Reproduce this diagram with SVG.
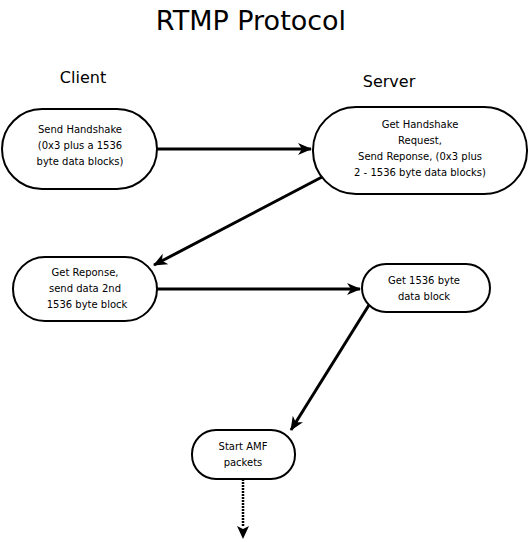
<svg xmlns="http://www.w3.org/2000/svg" width="529" height="542" viewBox="0 0 529 542">
<style>
.box{fill:#fff;stroke:#000;stroke-width:2}
.t{font-family:"DejaVu Sans",sans-serif;font-size:10px;text-anchor:middle;fill:#000}
.h{font-family:"DejaVu Sans",sans-serif;text-anchor:middle;fill:#000}
.c{fill:none;stroke:#000;stroke-width:3}
.d{fill:none;stroke:#000;stroke-width:2.5;stroke-dasharray:2 1}
</style>
<defs>
<marker id="ah" markerUnits="userSpaceOnUse" markerWidth="16" markerHeight="14" refX="13" refY="6" orient="auto" overflow="visible">
<path d="M0,0 L14,6 L0,12 L4,6 z" fill="#000"/>
</marker>
</defs>
<rect width="529" height="542" fill="#fff"/>
<text class="h" x="251" y="30" font-size="27">RTMP Protocol</text>
<text class="h" x="83" y="83" font-size="16">Client</text>
<text class="h" x="389" y="87" font-size="16">Server</text>
<g id="connectors">
<line class="c" x1="157" y1="149" x2="311" y2="149" marker-end="url(#ah)"/>
<line class="c" x1="322" y1="177" x2="154" y2="265" marker-end="url(#ah)"/>
<line class="c" x1="157" y1="289" x2="360" y2="289" marker-end="url(#ah)"/>
<line class="c" x1="369" y1="305" x2="291" y2="430" marker-end="url(#ah)"/>
<line class="d" x1="243" y1="479" x2="243" y2="526"/>
<path d="M237,526 L243,539 L249,526 L243,529 z" fill="#000"/>
</g>
<g id="send-handshake">
<rect class="box" x="2" y="109" width="155" height="80" rx="40" ry="40"/>
<text class="t" x="80" y="133">Send Handshake</text>
<text class="t" x="80" y="149">(0x3 plus a 1536</text>
<text class="t" x="80" y="165">byte data blocks)</text>
</g>
<g id="get-handshake">
<rect class="box" x="313" y="107" width="214" height="87" rx="43" ry="43"/>
<text class="t" x="420" y="128">Get Handshake</text>
<text class="t" x="420" y="144">Request,</text>
<text class="t" x="420" y="160">Send Reponse, (0x3 plus</text>
<text class="t" x="420" y="176">2 - 1536 byte data blocks)</text>
</g>
<g id="get-reponse">
<rect class="box" x="13" y="257" width="144" height="64" rx="32" ry="32"/>
<text class="t" x="85" y="276">Get Reponse,</text>
<text class="t" x="85" y="292">send data 2nd</text>
<text class="t" x="87" y="308">1536 byte block</text>
</g>
<g id="get-1536">
<rect class="box" x="362" y="264" width="128" height="48" rx="24" ry="24"/>
<text class="t" x="424" y="284">Get 1536 byte</text>
<text class="t" x="424" y="300">data block</text>
</g>
<g id="start-amf">
<rect class="box" x="192" y="430" width="103" height="49" rx="24" ry="24"/>
<text class="t" x="243" y="450">Start AMF</text>
<text class="t" x="243" y="466">packets</text>
</g>
</svg>
